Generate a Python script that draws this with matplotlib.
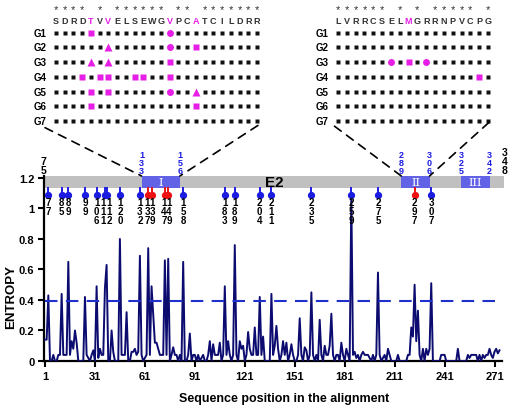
import matplotlib
matplotlib.use("Agg")
import matplotlib.pyplot as plt
from matplotlib.patches import ConnectionPatch

plt.rcParams['font.family'] = ['Liberation Sans', 'DejaVu Sans']

# entropy per alignment position (1..274)
entropy = [
    0.14, 0.14, 0.43, 0, 0, 0.04, 0, 0, 0.04, 0.04,
    0.44, 0.04, 0.04, 0.04, 0.65, 0.04, 0.13, 0.08, 0.20, 0.12,
    0, 0, 0, 0, 0.42, 0.04, 0.02, 0, 0.04, 0.07,
    0, 0.49, 0.02, 0.08, 0.04, 0.04, 0.48, 0.63, 0, 0,
    0.20, 0.06, 0, 0, 0, 0.80, 0.04, 0.04, 0.04, 0.32,
    0, 0, 0.06, 0.06, 0.08, 0.04, 0.06, 0.69, 0.04, 0,
    0.02, 0.04, 0.74, 0.04, 0.49, 0.30, 0.12, 0.12, 0.08, 0.04,
    0.04, 0.04, 0.66, 0.04, 0.67, 0, 0.04, 0.09, 0.04, 0.04,
    0, 0.04, 0, 0.65, 0, 0, 0.04, 0.18, 0, 0.04,
    0.04, 0, 0.04, 0, 0.02, 0.04, 0, 0, 0.04, 0.13,
    0, 0.11, 0.04, 0.04, 0.04, 0.12, 0, 0.04, 0.49, 0.04,
    0.13, 0.04, 0, 0.04, 0.76, 0.04, 0, 0.13, 0.08, 0.10,
    0, 0.04, 0.19, 0.08, 0.04, 0.04, 0.22, 0.04, 0.04, 0.42,
    0.04, 0.16, 0, 0, 0, 0, 0.44, 0.04, 0.10, 0.23,
    0.08, 0, 0.04, 0.13, 0.04, 0.12, 0, 0.04, 0.11, 0.04,
    0, 0, 0.04, 0.28, 0.04, 0, 0.09, 0.07, 0, 0.04,
    0.45, 0.04, 0, 0.04, 0, 0.27, 0.04, 0, 0.10, 0.04,
    0.04, 0.10, 0.31, 0.04, 0, 0.04, 0.04, 0, 0.12, 0.04,
    0, 0.08, 0.04, 0, 1.08, 0.04, 0.06, 0.02, 0.04, 0,
    0.04, 0.06, 0.04, 0.04, 0.04, 0.02, 0, 0.04, 0, 0.04,
    0.58, 0.04, 0, 0.02, 0.04, 0, 0.08, 0.04, 0, 0,
    0, 0, 0.04, 0, 0, 0, 0, 0, 0.04, 0.04,
    0.22, 0.16, 0.50, 0.13, 0.33, 0.04, 0, 0.08, 0, 0.08,
    0.04, 0.08, 0.51, 0, 0, 0, 0, 0, 0.04, 0.04,
    0.04, 0, 0, 0, 0, 0, 0, 0, 0.08, 0,
    0, 0, 0, 0, 0.04, 0.02, 0.04, 0.04, 0.04, 0.04,
    0, 0.04, 0, 0.04, 0.02, 0.04, 0.04, 0.08, 0.04, 0.02,
    0.06, 0.08, 0.05, 0.07,
]
threshold = 0.395
xticks = [1, 31, 61, 91, 121, 151, 181, 211, 241, 271]
yticks = [0, 0.2, 0.4, 0.6, 0.8, 1, 1.2]
ytick_labels = ["0", "0.2", "0.4", "0.6", "0.8", "1", "1.2"]

# E2 protein map (protein numbering; alignment pos = protein - 74)
offset = 74
gene_start, gene_end = 75, 348
domain_names = ["I", "II", "III"]
domain_start = [133, 289, 325]
domain_end = [156, 306, 342]
sites = [77, 85, 89, 99, 106, 111, 112, 120, 132, 137, 139, 147, 149,
         158, 183, 189, 204, 211, 235, 259, 275, 297, 307]
red_sites = [137, 139, 147, 149, 297]

# alignment panels above the map
left_seq = "SDRDTVVELSEWGVPCATCILDRR"
left_stars = [0, 1, 2, 3, 5, 7, 8, 9, 10, 11, 12, 14, 15, 17, 18, 19, 20, 21, 22, 23]
left_pink = [4, 6, 13, 16]
right_seq = "LVRRCSELMGRRNPVCPG"
right_stars = [0, 1, 2, 3, 4, 5, 7, 9, 11, 12, 13, 14, 15, 17]
right_pink = [8]
groups = ["G1", "G2", "G3", "G4", "G5", "G6", "G7"]
# (group row, column, marker)
left_var = [(0, 4, 's'), (0, 13, 'o'),
            (1, 6, '^'), (1, 13, 'o'), (1, 16, 's'),
            (2, 4, '^'), (2, 6, '^'), (2, 13, 's'),
            (3, 3, 's'), (3, 5, 's'), (3, 6, 's'), (3, 9, 's'), (3, 10, 's'), (3, 13, 's'),
            (4, 4, 's'), (4, 6, 's'), (4, 13, 'o'), (4, 16, '^'),
            (5, 4, 's'), (5, 16, 's')]
right_var = [(2, 6, 'o'), (2, 8, 's'), (2, 10, 'o'), (3, 16, 's')]

MAG = '#e61ee6'
NAVY = '#0c0c70'
BLUE = '#1c1ce0'
DOMAIN = '#6262e6'

fig = plt.figure(figsize=(5.1, 4.1), dpi=100)
ax = fig.add_axes([44 / 510, 48 / 410, 458 / 510, 185 / 410])

pos = list(range(1, len(entropy) + 1))
ax.plot(pos, entropy, color=NAVY, lw=1.4, zorder=3)
ax.plot([1, 274], [threshold, threshold], color='#2030cc', lw=1.5,
        dashes=(6, 4), zorder=4)

ax.set_xlim(0.4, 275.5)
ax.set_ylim(0, 1.213)
ax.set_xticks(xticks)
ax.set_yticks(yticks)
ax.set_yticklabels(ytick_labels)
for s in ['top', 'right']:
    ax.spines[s].set_visible(False)
for s in ['left', 'bottom']:
    ax.spines[s].set_linewidth(1.6)
ax.tick_params(direction='out', length=4, width=1.5, labelsize=8, pad=3)
for lbl in ax.get_xticklabels() + ax.get_yticklabels():
    lbl.set_fontweight('bold')
ax.set_xlabel("Sequence position in the alignment", fontsize=9, fontweight='bold')
ax.xaxis.set_label_coords(0.524, -0.17)
ax.set_ylabel("ENTROPY", fontsize=9.5, fontweight='bold')
ax.yaxis.set_label_coords(-0.058, 0.35)

# gene bar
bar_bot, bar_top = 1.135, 1.213
ax.barh((bar_bot + bar_top) / 2, 277 - 0.4, left=0.4, height=bar_top - bar_bot,
        color='#c0c0c0', clip_on=False, zorder=2)
ax.text(139, (bar_bot + bar_top) / 2, "E2", fontsize=11, fontweight='bold',
        ha='center', va='center', zorder=5)
for name, s, e in zip(domain_names, domain_start, domain_end):
    ax.barh((bar_bot + bar_top) / 2, e - s, left=s - offset, height=bar_top - bar_bot,
            color=DOMAIN, clip_on=False, zorder=3)
    ax.text((s + e) / 2 - offset, (bar_bot + bar_top) / 2 - 0.003, name, color='white',
            family='DejaVu Serif', fontsize=8, ha='center', va='center', zorder=5)
    for p in (s, e):
        ax.text(p - offset, bar_top + 0.005, "\n".join(str(p)), color=BLUE, fontsize=6.5,
                fontweight='bold', ha='center', va='bottom', linespacing=0.85, clip_on=False)
for p, dx in ((gene_start, -1), (gene_end, 4)):
    ax.annotate("\n".join(str(p)), (p - offset, bar_top + 0.005), xytext=(dx, 0),
                textcoords='offset points', fontsize=7.5, fontweight='bold',
                ha='center', va='bottom', linespacing=0.9, annotation_clip=False)

# variable sites
mark_y = 1.089
nudge = {111: -1.2, 112: 1.8, 137: -0.6, 139: 0.6, 147: -0.6, 149: 0.6}
for p in sites:
    c = '#ee1111' if p in red_sites else BLUE
    ax.plot([p - offset, p - offset], [bar_bot, mark_y], color=c, lw=1.4, zorder=4,
            clip_on=False)
    ax.plot(p - offset, mark_y, 'o', color=c, ms=4.2, zorder=5, clip_on=False)
    ax.annotate("\n".join(str(p)), (p - offset, mark_y - 0.014),
                xytext=(nudge.get(p, 0), 0), textcoords='offset points',
                fontsize=7, fontweight='bold', ha='center', va='top',
                linespacing=0.85, annotation_clip=False, zorder=6)


def panel(rect, seq, stars, pink, var):
    pa = fig.add_axes(rect)
    pa.set_xlim(-0.5, len(seq) - 0.5)
    pa.set_ylim(6.5, -2.2)
    pa.axis('off')
    taken = {(r, c) for r, c, m in var}
    for r, g in enumerate(groups):
        pa.text(-1.8, r, g, fontsize=7, fontweight='bold', ha='center', va='center')
        cols = [c for c in range(len(seq)) if (r, c) not in taken]
        pa.plot(cols, [r] * len(cols), 's', color='#111111', ms=2.6, mec='none',
                clip_on=False)
    for r, c, m in var:
        size = {'s': 4.6, 'o': 5.0, '^': 5.2}[m]
        pa.plot(c, r, m, color=MAG, ms=size, mec='none', clip_on=False)
    for c, ch in enumerate(seq):
        pa.text(c, -0.8, ch, fontsize=6.5, fontweight='bold', ha='center', va='center',
                color=MAG if c in pink else '#333333')
    for c in stars:
        pa.text(c, -1.62, "*", fontsize=8, ha='center', va='center', color='#333333')
    return pa


left_ax = panel([51.6 / 510, 280.6 / 410, 209.8 / 510, 128.3 / 410],
                left_seq, left_stars, left_pink, left_var)
right_ax = panel([333.6 / 510, 280.6 / 410, 158.8 / 510, 128.3 / 410],
                 right_seq, right_stars, right_pink, right_var)

# dashed zoom lines from the panels to the domains
links = [(left_ax, (-1.25, 6.45), domain_start[0]),
         (left_ax, (23.1, 6.3), domain_end[0]),
         (right_ax, (-0.4, 6.35), domain_start[1]),
         (right_ax, (17.1, 6.1), domain_end[1])]
for pa, xy, p in links:
    con = ConnectionPatch(xyA=xy, coordsA=pa.transData, xyB=(p - offset, bar_top),
                          coordsB=ax.transData, color='black', lw=1.2,
                          linestyle=(0, (5, 4)))
    fig.add_artist(con)

fig.savefig("out.png", dpi=100)
